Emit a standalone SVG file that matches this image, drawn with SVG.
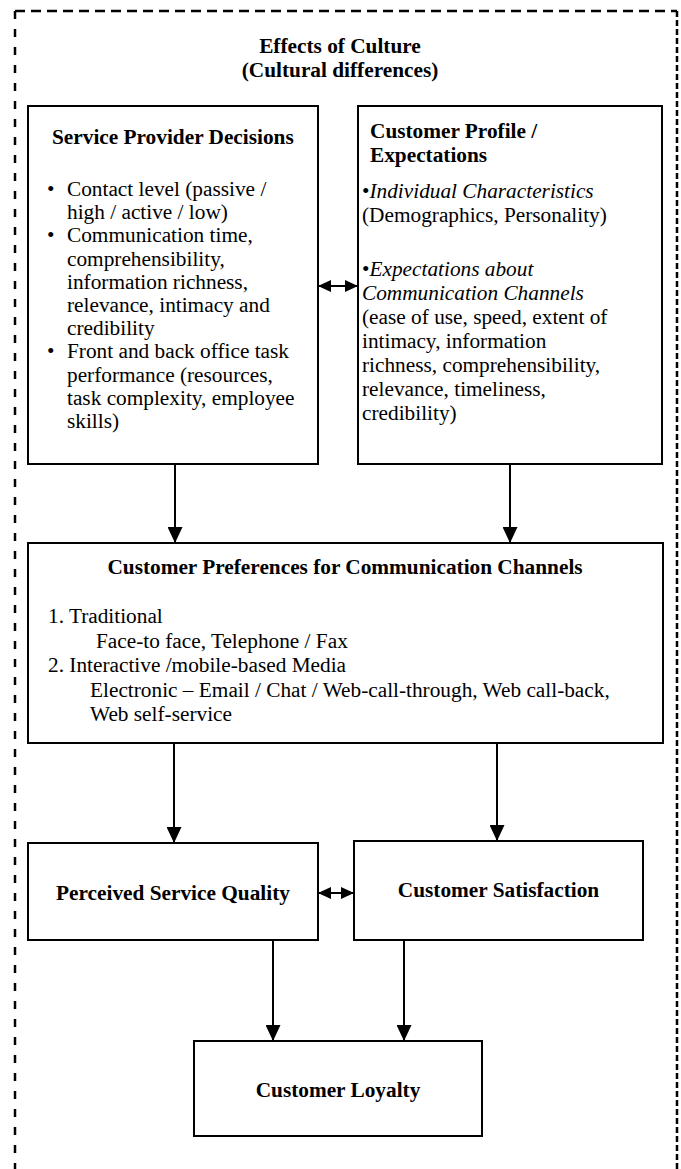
<svg xmlns="http://www.w3.org/2000/svg" width="681" height="1169" viewBox="0 0 681 1169">
<style>
text{font-family:"Liberation Serif","Times New Roman",serif;font-size:21.3px;fill:#000}
.b{font-weight:bold}
.i{font-style:italic}
.c{text-anchor:middle}
.box{fill:#fff;stroke:#000;stroke-width:2}
.ln{fill:none;stroke:#000;stroke-width:2}
.dash{fill:none;stroke:#000;stroke-width:2.5}
</style>
<defs>
<marker id="ah" viewBox="0 0 16 15" refX="16" refY="7.5" markerWidth="16" markerHeight="15" markerUnits="userSpaceOnUse" orient="auto">
<path d="M0,0 L16,7.5 L0,15 Z" fill="#000"/>
</marker>
<marker id="ah2" viewBox="0 0 13 12" refX="13" refY="6" markerWidth="13" markerHeight="12" markerUnits="userSpaceOnUse" orient="auto-start-reverse">
<path d="M0,0 L13,6 L0,12 Z" fill="#000"/>
</marker>
</defs>
<rect width="681" height="1169" fill="#fff"/>
<g id="frame">
<line class="dash" x1="15" y1="11" x2="677" y2="11" stroke-dasharray="10 6"/>
<line class="dash" x1="15" y1="11" x2="15" y2="1169" stroke-dasharray="8 10"/>
<line class="dash" x1="677" y1="11" x2="677" y2="1169" stroke-dasharray="6 3"/>
<text class="b c" x="340" y="53">Effects of Culture</text>
<text class="b c" x="340" y="77">(Cultural differences)</text>
</g>
<g id="connectors">
<line class="ln" x1="175" y1="464" x2="175" y2="543" marker-end="url(#ah)"/>
<line class="ln" x1="510" y1="464" x2="510" y2="543" marker-end="url(#ah)"/>
<line class="ln" x1="174" y1="743" x2="174" y2="843" marker-end="url(#ah)"/>
<line class="ln" x1="497" y1="743" x2="497" y2="841" marker-end="url(#ah)"/>
<line class="ln" x1="273" y1="940" x2="273" y2="1041" marker-end="url(#ah)"/>
<line class="ln" x1="404" y1="940" x2="404" y2="1041" marker-end="url(#ah)"/>
<line class="ln" x1="318" y1="286" x2="358" y2="286" marker-start="url(#ah2)" marker-end="url(#ah2)"/>
<line class="ln" x1="318" y1="893" x2="354" y2="893" marker-start="url(#ah2)" marker-end="url(#ah2)"/>
</g>
<g id="service-provider">
<rect class="box" x="28" y="106" width="290" height="358"/>
<text class="b" x="52" y="144">Service Provider Decisions</text>
<text x="47" y="196">•</text><text x="67" y="196">Contact level (passive /</text>
<text x="67" y="219">high / active / low)</text>
<text x="47" y="242">•</text><text x="67" y="242">Communication  time,</text>
<text x="67" y="266">comprehensibility,</text>
<text x="67" y="289">information richness,</text>
<text x="67" y="312">relevance, intimacy and</text>
<text x="67" y="335">credibility</text>
<text x="47" y="358">•</text><text x="67" y="358">Front and back office task</text>
<text x="67" y="382">performance (resources,</text>
<text x="67" y="405">task complexity, employee</text>
<text x="67" y="428">skills)</text>
</g>
<g id="customer-profile">
<rect class="box" x="358" y="106" width="304" height="358"/>
<text class="b" x="370" y="138">Customer Profile /</text>
<text class="b" x="370" y="162">Expectations</text>
<text x="362" y="198">•<tspan class="i">Individual Characteristics</tspan></text>
<text x="362" y="222">(Demographics, Personality)</text>
<text x="362" y="276">•<tspan class="i">Expectations about</tspan></text>
<text class="i" x="362" y="300">Communication Channels</text>
<text x="362" y="324">(ease of use, speed, extent of</text>
<text x="362" y="348">intimacy, information</text>
<text x="362" y="372">richness, comprehensibility,</text>
<text x="362" y="396">relevance, timeliness,</text>
<text x="362" y="420">credibility)</text>
</g>
<g id="preferences">
<rect class="box" x="28" y="543" width="635" height="200"/>
<text class="b c" x="345" y="574">Customer Preferences for Communication Channels</text>
<text x="48" y="623">1. Traditional</text>
<text x="96" y="648">Face-to face, Telephone / Fax</text>
<text x="48" y="672">2. Interactive /mobile-based Media</text>
<text x="90" y="697">Electronic – Email / Chat / Web-call-through, Web call-back,</text>
<text x="90" y="721">Web self-service</text>
</g>
<g id="quality">
<rect class="box" x="28" y="843" width="290" height="97"/>
<text class="b c" x="173" y="900">Perceived Service Quality</text>
</g>
<g id="satisfaction">
<rect class="box" x="354" y="841" width="289" height="99"/>
<text class="b c" x="498.5" y="897">Customer Satisfaction</text>
</g>
<g id="loyalty">
<rect class="box" x="194" y="1041" width="288" height="95"/>
<text class="b c" x="338" y="1097">Customer Loyalty</text>
</g>
</svg>
